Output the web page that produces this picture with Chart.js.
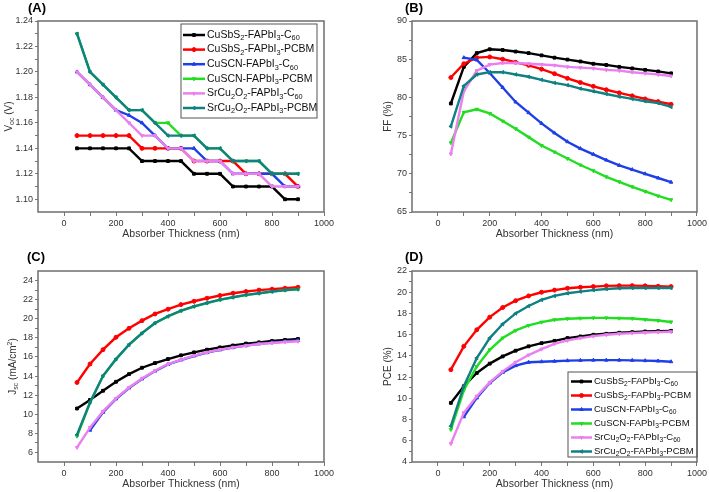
<!DOCTYPE html>
<html>
<head>
<meta charset="utf-8">
<script src="https://cdn.jsdelivr.net/npm/chart.js@4.4.1/dist/chart.umd.min.js"></script>
<style>
  body { margin: 0; background: #fff; }
  canvas { position: absolute; }
</style>
</head>
<body>
<canvas id="chartA" width="355" height="245" style="left:0;top:0"></canvas>
<canvas id="chartB" width="354" height="245" style="left:355px;top:0"></canvas>
<canvas id="chartC" width="355" height="247" style="left:0;top:245px"></canvas>
<canvas id="chartD" width="354" height="247" style="left:355px;top:245px"></canvas>
<script>
// absorber thickness (nm)
const thickness = [50, 100, 150, 200, 250, 300, 350, 400, 450, 500, 550, 600, 650, 700, 750, 800, 850, 900];
const seriesNames = [
  'CuSbS_2-FAPbI_3-C_60',
  'CuSbS_2-FAPbI_3-PCBM',
  'CuSCN-FAPbI_3-C_60',
  'CuSCN-FAPbI_3-PCBM',
  'SrCu_2O_2-FAPbI_3-C_60',
  'SrCu_2O_2-FAPbI_3-PCBM',
];

// (A) Voc (V)
const vocCuSbS2C60 = [1.14, 1.14, 1.14, 1.14, 1.14, 1.13, 1.13, 1.13, 1.13, 1.12, 1.12, 1.12, 1.11, 1.11, 1.11, 1.11, 1.10, 1.10];
const vocCuSbS2PCBM = [1.15, 1.15, 1.15, 1.15, 1.15, 1.14, 1.14, 1.14, 1.14, 1.13, 1.13, 1.13, 1.13, 1.12, 1.12, 1.12, 1.12, 1.11];
const vocCuSCNC60 = [1.20, 1.19, 1.18, 1.17, 1.166, 1.16, 1.15, 1.14, 1.14, 1.14, 1.13, 1.13, 1.12, 1.12, 1.12, 1.12, 1.11, 1.11];
const vocCuSCNPCBM = [1.23, 1.20, 1.19, 1.18, 1.17, 1.17, 1.16, 1.16, 1.15, 1.15, 1.14, 1.14, 1.13, 1.13, 1.13, 1.12, 1.12, 1.12];
const vocSrCu2O2C60 = [1.20, 1.19, 1.18, 1.17, 1.16, 1.15, 1.15, 1.14, 1.14, 1.13, 1.13, 1.13, 1.12, 1.12, 1.12, 1.11, 1.11, 1.11];
const vocSrCu2O2PCBM = [1.23, 1.20, 1.19, 1.18, 1.17, 1.17, 1.16, 1.15, 1.15, 1.15, 1.14, 1.14, 1.13, 1.13, 1.13, 1.12, 1.12, 1.12];

// (B) FF (%)
const ffCuSbS2C60 = [79.2, 84.0, 85.8, 86.3, 86.2, 86.0, 85.8, 85.5, 85.2, 84.95, 84.7, 84.4, 84.25, 84.0, 83.8, 83.6, 83.4, 83.15];
const ffCuSbS2PCBM = [82.6, 84.4, 85.2, 85.3, 85.0, 84.6, 84.2, 83.7, 83.1, 82.5, 81.95, 81.45, 81.0, 80.6, 80.2, 79.8, 79.45, 79.1];
const ffCuSCNC60 = [null, 85.2, 84.9, 83.2, 81.3, 79.4, 78.0, 76.6, 75.35, 74.2, 73.3, 72.55, 71.8, 71.1, 70.55, 70.0, 69.45, 68.9];
const ffCuSCNPCBM = [74.05, 78.05, 78.45, 77.9, 76.9, 75.9, 74.8, 73.7, 72.85, 72.0, 71.15, 70.4, 69.6, 68.95, 68.3, 67.7, 67.1, 66.6];
const ffSrCu2O2C60 = [72.6, 80.8, 83.5, 84.3, 84.5, 84.5, 84.4, 84.3, 84.2, 84.0, 83.9, 83.8, 83.6, 83.5, 83.3, 83.15, 83.0, 82.8];
const ffSrCu2O2PCBM = [76.2, 81.5, 83.0, 83.3, 83.3, 83.0, 82.7, 82.3, 81.9, 81.6, 81.15, 80.8, 80.45, 80.1, 79.8, 79.5, 79.25, 78.75];

// (C) Jsc (mA/cm2)
const jscCuSbS2C60 = [10.6, 11.5, 12.46, 13.4, 14.2, 14.87, 15.36, 15.78, 16.17, 16.48, 16.76, 17.0, 17.2, 17.4, 17.53, 17.67, 17.78, 17.88];
const jscCuSbS2PCBM = [13.33, 15.26, 16.76, 18.06, 19.0, 19.8, 20.5, 21.0, 21.48, 21.83, 22.15, 22.43, 22.67, 22.85, 23.0, 23.1, 23.2, 23.3];
const jscCuSCNC60 = [null, 8.33, 10.2, 11.6, 12.75, 13.7, 14.52, 15.22, 15.68, 16.1, 16.45, 16.74, 16.98, 17.18, 17.37, 17.5, 17.62, 17.72];
const jscCuSCNPCBM = [7.7, 11.2, 14.0, 15.75, 17.27, 18.48, 19.54, 20.24, 20.83, 21.28, 21.64, 21.98, 22.24, 22.48, 22.66, 22.84, 22.98, 23.08];
const jscSrCu2O2C60 = [6.52, 8.6, 10.3, 11.66, 12.8, 13.75, 14.56, 15.26, 15.7, 16.13, 16.48, 16.76, 17.0, 17.18, 17.36, 17.46, 17.57, 17.64];
const jscSrCu2O2PCBM = [7.85, 11.24, 14.03, 15.78, 17.29, 18.5, 19.56, 20.26, 20.85, 21.3, 21.66, 22.0, 22.25, 22.5, 22.67, 22.85, 23.0, 23.1];

// (D) PCE (%)
const pceCuSbS2C60 = [9.57, 11.14, 12.39, 13.27, 13.95, 14.49, 14.9, 15.2, 15.42, 15.68, 15.83, 15.99, 16.08, 16.18, 16.24, 16.3, 16.33, 16.36];
const pceCuSbS2PCBM = [12.7, 14.9, 16.46, 17.65, 18.56, 19.2, 19.65, 20.0, 20.2, 20.37, 20.47, 20.53, 20.6, 20.62, 20.62, 20.6, 20.56, 20.53];
const pceCuSCNC60 = [null, 8.26, 10.04, 11.45, 12.45, 13.08, 13.4, 13.45, 13.5, 13.55, 13.58, 13.6, 13.6, 13.6, 13.58, 13.55, 13.52, 13.45];
const pceCuSCNPCBM = [7.06, 10.76, 13.0, 14.58, 15.68, 16.4, 16.87, 17.18, 17.4, 17.5, 17.55, 17.58, 17.58, 17.55, 17.52, 17.43, 17.33, 17.2];
const pceSrCu2O2C60 = [5.72, 8.63, 10.2, 11.5, 12.54, 13.4, 14.08, 14.64, 15.14, 15.46, 15.68, 15.86, 15.99, 16.08, 16.15, 16.2, 16.24, 16.27];
const pceSrCu2O2PCBM = [7.38, 11.14, 13.8, 15.68, 17.0, 18.0, 18.7, 19.28, 19.65, 19.9, 20.06, 20.2, 20.3, 20.37, 20.4, 20.4, 20.4, 20.4];

// tick labels
const xTicks = [0, 200, 400, 600, 800, 1000];
const vocTicks = [1.10, 1.12, 1.14, 1.16, 1.18, 1.20, 1.22, 1.24];
const ffTicks = [65, 70, 75, 80, 85, 90];
const jscTicks = [6, 8, 10, 12, 14, 16, 18, 20, 22, 24];
const pceTicks = [4, 6, 8, 10, 12, 14, 16, 18, 20, 22];

const colors = ['#000000', '#ff0000', '#1f3fe6', '#22dd22', '#ea80f0', '#108080'];
const markers = [['rect', 0], ['circle', 0], ['triangle', 0], ['triangle', 180], ['triangle', 180], ['triangle', -90]];
const FAMILY = '"Liberation Sans", Arial, sans-serif';

// text with _sub and ^sup parts
function richParts(s) {
  let parts = [], re = /([_^])([0-9a-z]+)/g, last = 0, m;
  while ((m = re.exec(s))) {
    if (m.index > last) parts.push([s.slice(last, m.index), 0]);
    parts.push([m[2], m[1] === '_' ? 1 : -1]);
    last = re.lastIndex;
  }
  if (last < s.length) parts.push([s.slice(last), 0]);
  return parts;
}

function drawRich(ctx, s, x, y, size, center) {
  const parts = richParts(s);
  const small = size * 0.7;
  let w = 0;
  parts.forEach(p => {
    ctx.font = (p[1] ? small : size) + 'px ' + FAMILY;
    w += ctx.measureText(p[0]).width;
  });
  let cx = center ? x - w / 2 : x;
  ctx.textAlign = 'left';
  ctx.textBaseline = 'middle';
  parts.forEach(p => {
    ctx.font = (p[1] ? small : size) + 'px ' + FAMILY;
    ctx.fillText(p[0], cx, y + p[1] * size * 0.32);
    cx += ctx.measureText(p[0]).width;
  });
}

// frame, panel letter, axis titles and boxed legend
const decor = {
  id: 'decor',
  afterDraw(chart, args, o) {
    const ctx = chart.ctx, a = chart.chartArea;
    ctx.save();
    ctx.strokeStyle = '#6e6e6e';
    ctx.lineWidth = 1.5;
    ctx.strokeRect(a.left, a.top, a.right - a.left, a.bottom - a.top);

    ctx.fillStyle = '#000';
    ctx.font = 'bold 13px ' + FAMILY;
    ctx.textAlign = 'left';
    ctx.textBaseline = 'middle';
    ctx.fillText(o.letter, o.letterX, o.letterY);

    ctx.fillStyle = '#333';
    drawRich(ctx, 'Absorber Thickness (nm)', (a.left + a.right) / 2, o.xTitleY, 10.5, true);
    ctx.save();
    ctx.translate(a.left - o.yTitleOffset, (a.top + a.bottom) / 2);
    ctx.rotate(-Math.PI / 2);
    drawRich(ctx, o.yTitle, 0, 0, 10, true);
    ctx.restore();

    if (o.legend) {
      const L = o.legend;
      ctx.strokeStyle = '#555';
      ctx.lineWidth = 1;
      ctx.strokeRect(L.x, L.y, L.w, L.h);
      chart.data.datasets.forEach((ds, i) => {
        const y = L.row0 + i * L.step;
        ctx.strokeStyle = ds.borderColor;
        ctx.fillStyle = ds.borderColor;
        ctx.lineWidth = 2.5;
        ctx.beginPath();
        ctx.moveTo(L.lineX, y);
        ctx.lineTo(L.lineX + L.lineLen, y);
        ctx.stroke();
        ctx.lineWidth = 1;
        Chart.helpers.drawPoint(ctx, { pointStyle: ds.pointStyle, rotation: ds.pointRotation, radius: 2, borderWidth: 1 }, L.lineX + L.lineLen / 2, y);
        ctx.fillStyle = '#111';
        drawRich(ctx, seriesNames[i], L.lineX + L.lineLen + 2, y, L.size, false);
      });
    }
    ctx.restore();
  },
};

function makePanel(id, series, yMin, yMax, yTicks, yDigits, pad, axisW, axisH, decorOpts) {
  const yMinor = [];
  for (let i = 0; i < yTicks.length - 1; i++) yMinor.push((yTicks[i] + yTicks[i + 1]) / 2);
  const yAll = yTicks.concat(yMinor).filter(v => v >= yMin && v <= yMax);
  const xAll = [0, 100, 200, 300, 400, 500, 600, 700, 800, 900, 1000];
  const tickFont = { family: FAMILY, size: 9 };

  return new Chart(document.getElementById(id), {
    type: 'line',
    data: {
      datasets: series.map((vals, i) => ({
        label: seriesNames[i],
        data: thickness.map((t, j) => ({ x: t, y: vals[j] })).filter(p => p.y !== null),
        borderColor: colors[i],
        backgroundColor: colors[i],
        borderWidth: 2.4,
        pointStyle: markers[i][0],
        pointRotation: markers[i][1],
        pointRadius: 2,
        pointBorderWidth: 1,
        tension: 0,
        order: 5 - i,
      })),
    },
    options: {
      responsive: false,
      animation: false,
      devicePixelRatio: 1,
      layout: { padding: pad },
      scales: {
        x: {
          type: 'linear',
          min: -100,
          max: 1000,
          afterBuildTicks: (s) => { s.ticks = xAll.map(v => ({ value: v })); },
          afterFit: (s) => { s.height = axisH; },
          ticks: {
            autoSkip: false,
            maxRotation: 0,
            padding: 2,
            color: '#333',
            font: tickFont,
            callback: (v) => (xTicks.includes(v) ? String(v) : ''),
          },
          grid: { drawOnChartArea: false, drawTicks: true, tickLength: 4, tickColor: '#777' },
          border: { display: false },
        },
        y: {
          min: yMin,
          max: yMax,
          afterBuildTicks: (s) => { s.ticks = yAll.map(v => ({ value: v })); },
          afterFit: (s) => { s.width = axisW; },
          ticks: {
            autoSkip: false,
            padding: 2,
            color: '#333',
            font: tickFont,
            callback: (v) => (yTicks.includes(v) ? v.toFixed(yDigits) : ''),
          },
          grid: { drawOnChartArea: false, drawTicks: true, tickLength: 3, tickColor: '#777' },
          border: { display: false },
        },
      },
      plugins: {
        legend: { display: false },
        tooltip: { enabled: false },
        decor: decorOpts,
      },
    },
    plugins: [decor],
  });
}

makePanel('chartA',
  [vocCuSbS2C60, vocCuSbS2PCBM, vocCuSCNC60, vocCuSCNPCBM, vocSrCu2O2C60, vocSrCu2O2PCBM],
  1.09, 1.24, vocTicks, 2,
  { left: 0, right: 31, top: 21, bottom: 0 }, 38, 33,
  {
    letter: '(A)', letterX: 28, letterY: 8, xTitleY: 234, yTitle: 'V_oc (V)', yTitleOffset: 29,
    legend: { x: 181, y: 24, w: 136, h: 94, row0: 35, step: 14.6, lineX: 183, lineLen: 22, size: 10.5 },
  });

makePanel('chartB',
  [ffCuSbS2C60, ffCuSbS2PCBM, ffCuSCNC60, ffCuSCNPCBM, ffSrCu2O2C60, ffSrCu2O2PCBM],
  65, 90, ffTicks, 0,
  { left: 0, right: 11, top: 21, bottom: 0 }, 57, 33,
  { letter: '(B)', letterX: 50, letterY: 8, xTitleY: 234, yTitle: 'FF (%)', yTitleOffset: 24 });

makePanel('chartC',
  [jscCuSbS2C60, jscCuSbS2PCBM, jscCuSCNC60, jscCuSCNPCBM, jscSrCu2O2C60, jscSrCu2O2PCBM],
  5, 25, jscTicks, 0,
  { left: 0, right: 31, top: 26, bottom: 0 }, 38, 30,
  { letter: '(C)', letterX: 27, letterY: 12, xTitleY: 239, yTitle: 'J_sc (mA/cm^2)', yTitleOffset: 25 });

makePanel('chartD',
  [pceCuSbS2C60, pceCuSbS2PCBM, pceCuSCNC60, pceCuSCNPCBM, pceSrCu2O2C60, pceSrCu2O2PCBM],
  4, 22, pceTicks, 0,
  { left: 0, right: 10, top: 26, bottom: 0 }, 57, 30,
  {
    letter: '(D)', letterX: 50, letterY: 12, xTitleY: 239, yTitle: 'PCE (%)', yTitleOffset: 24,
    legend: { x: 213, y: 127, w: 129, h: 85, row0: 136.5, step: 14, lineX: 216, lineLen: 21, size: 9.5 },
  });
</script>
</body>
</html>
